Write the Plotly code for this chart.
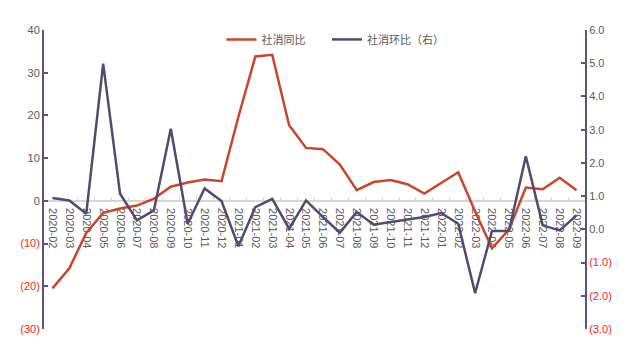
import plotly.graph_objects as go

months = ["2020-02", "2020-03", "2020-04", "2020-05", "2020-06", "2020-07", "2020-08", "2020-09",
          "2020-10", "2020-11", "2020-12", "2021-01", "2021-02", "2021-03", "2021-04", "2021-05",
          "2021-06", "2021-07", "2021-08", "2021-09", "2021-10", "2021-11", "2021-12", "2022-01",
          "2022-02", "2022-03", "2022-04", "2022-05", "2022-06", "2022-07", "2022-08", "2022-09"]

yoy = [-20.5, -15.8, -7.5, -2.8, -1.8, -1.1, 0.5, 3.3,
       4.3, 5.0, 4.6, 19.7, 33.8, 34.2, 17.7, 12.4,
       12.1, 8.5, 2.5, 4.4, 4.9, 3.9, 1.7, 4.2,
       6.7, -2.5, -11.1, -6.7, 3.1, 2.7, 5.4, 2.5]

mom = [0.94, 0.87, 0.47, 4.99, 1.07, 0.27, 0.57, 3.03,
       0.17, 1.23, 0.85, -0.51, 0.67, 0.92, 0.02, 0.87,
       0.37, -0.10, 0.52, 0.14, 0.22, 0.30, 0.37, 0.49,
       0.17, -1.92, -0.05, -0.05, 2.20, 0.12, -0.03, 0.42]

left_ticks = [40, 30, 20, 10, 0, -10, -20, -30]
right_ticks = [6, 5, 4, 3, 2, 1, 0, -1, -2, -3]

RED = "#C9452B"
DARK = "#514C6F"
AXIS = "#5A5577"
GREY_TXT = "#595959"
NEG_TXT = "#FF2020"
FONT = "Liberation Sans, Arial, Noto Sans CJK SC, sans-serif"
LEG_FONT = dict(family="Noto Sans CJK SC, sans-serif", size=11, color=GREY_TXT)


def left_label(v):
    if v < 0:
        return f"<span style='fill:{NEG_TXT}'>({abs(v)})</span>"
    return str(v)


def right_label(v):
    if v < 0:
        return f"<span style='fill:{NEG_TXT}'>({abs(v):.1f})</span>"
    return f"{v:.1f}"


fig = go.Figure()
fig.add_trace(go.Scatter(x=months, y=yoy, name="社消同比", mode="lines",
                         line=dict(color=RED, width=2.5), yaxis="y", legend="legend"))
fig.add_trace(go.Scatter(x=months, y=mom, name="社消环比（右）", mode="lines",
                         line=dict(color=DARK, width=2.5), yaxis="y2", legend="legend2"))

fig.update_layout(
    width=624, height=349,
    margin=dict(l=34, r=47, t=22, b=28),
    paper_bgcolor="white", plot_bgcolor="white",
    font=dict(family=FONT, size=11, color=GREY_TXT),
    showlegend=True,
    legend=dict(orientation="h", x=0.328, y=1.017, xanchor="left", yanchor="top",
                font=LEG_FONT, bgcolor="rgba(0,0,0,0)", itemwidth=30),
    legend2=dict(orientation="h", x=0.523, y=1.017, xanchor="left", yanchor="top",
                 font=LEG_FONT, bgcolor="rgba(0,0,0,0)", itemwidth=30),
    xaxis=dict(type="category", range=[-0.5, len(months) - 0.5],
               anchor="free", position=30 / 70,
               showline=True, linecolor="#D6D6D6", linewidth=2,
               ticks="inside", ticklen=3, tickcolor="#D6D6D6", tickson="boundaries",
               tickangle=90, tickfont=dict(size=11, color=GREY_TXT), ticklabelstandoff=4,
               showgrid=False, zeroline=False, layer="below traces"),
    yaxis=dict(range=[-30, 40], tickvals=left_ticks,
               ticktext=[left_label(v) for v in left_ticks],
               showline=True, linecolor=AXIS, linewidth=2,
               ticks="inside", ticklen=4, tickcolor=AXIS, tickwidth=2,
               showgrid=False, zeroline=False, tickfont=dict(size=11, color=GREY_TXT)),
    yaxis2=dict(range=[-3, 6], tickvals=right_ticks,
                ticktext=[right_label(v) for v in right_ticks],
                overlaying="y", side="right",
                showline=True, linecolor=AXIS, linewidth=2,
                ticks="inside", ticklen=4, tickcolor=AXIS, tickwidth=2,
                showgrid=False, zeroline=False, tickfont=dict(size=11, color=GREY_TXT)),
)

fig.write_html("out.html")
